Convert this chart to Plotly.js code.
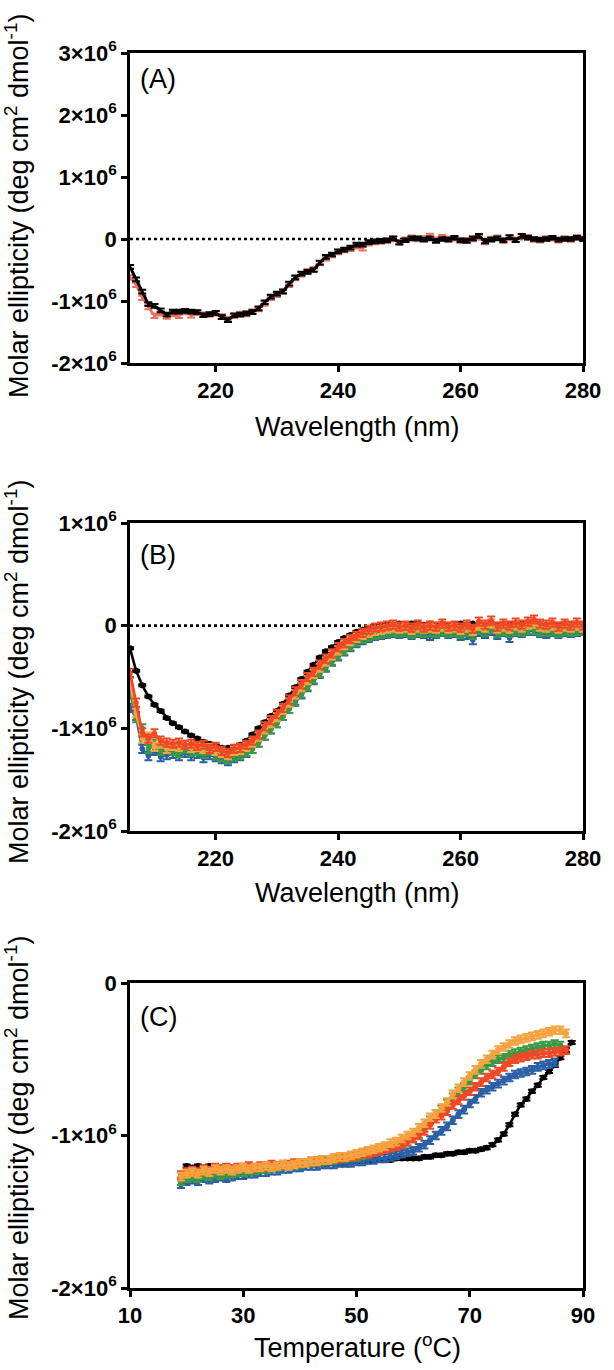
<!DOCTYPE html>
<html><head><meta charset="utf-8">
<script src="https://cdn.plot.ly/plotly-3.0.1.min.js"></script>
<style>html,body{margin:0;padding:0;background:#fff}#plot{width:614px;height:1370px}</style>
</head><body><div id="plot"></div>
<script>
// ---- data (ellipticity values in units of 1e6 deg cm2 dmol-1) ----
const wavelength = [206,207,208,209,210,211,212,213,214,215,216,217,218,219,220,221,222,223,224,225,226,227,228,229,230,231,232,233,234,235,236,237,238,239,240,241,242,243,244,245,246,247,248,249,250,251,252,253,254,255,256,257,258,259,260,261,262,263,264,265,266,267,268,269,270,271,272,273,274,275,276,277,278,279,280];

// Panel A
const A_black = [-0.45,-0.65,-0.85,-1.05,-1.08,-1.15,-1.22,-1.17,-1.17,-1.16,-1.17,-1.18,-1.23,-1.21,-1.19,-1.26,-1.31,-1.23,-1.22,-1.20,-1.18,-1.12,-1.02,-0.93,-0.88,-0.85,-0.72,-0.62,-0.56,-0.53,-0.50,-0.38,-0.29,-0.25,-0.20,-0.17,-0.14,-0.09,-0.09,-0.05,-0.04,-0.03,-0.02,0.01,-0.06,-0.02,0.01,0.01,-0.01,0.01,-0.03,0.00,-0.01,0.02,-0.02,-0.03,0.01,0.05,-0.04,-0.01,0.01,-0.02,0.03,-0.02,0.05,0.02,0.00,-0.01,0.00,0.02,-0.01,0.00,0.00,0.02,0.00];
const A_red = [-0.62,-0.74,-0.95,-1.10,-1.24,-1.20,-1.25,-1.21,-1.24,-1.18,-1.23,-1.19,-1.22,-1.22,-1.20,-1.25,-1.29,-1.24,-1.21,-1.21,-1.17,-1.13,-1.04,-0.95,-0.90,-0.84,-0.74,-0.63,-0.57,-0.52,-0.49,-0.39,-0.31,-0.26,-0.21,-0.18,-0.16,-0.12,-0.15,-0.07,-0.05,-0.04,-0.03,0.00,-0.05,-0.01,0.02,0.00,0.01,0.05,-0.01,0.03,0.00,0.01,-0.03,-0.02,0.00,0.03,-0.05,0.00,0.02,-0.03,0.02,-0.01,0.04,0.03,-0.01,-0.02,0.01,0.01,-0.02,0.01,-0.01,0.03,0.00];

// Panel B
const B_black = [-0.22,-0.44,-0.58,-0.69,-0.77,-0.83,-0.90,-0.95,-0.99,-1.03,-1.07,-1.10,-1.13,-1.15,-1.17,-1.19,-1.19,-1.18,-1.16,-1.12,-1.06,-1.00,-0.94,-0.88,-0.83,-0.76,-0.68,-0.60,-0.52,-0.45,-0.38,-0.31,-0.25,-0.21,-0.16,-0.12,-0.09,-0.06,-0.04,-0.02,-0.01,0.00,0.01,0.01,0.02,0.01,0.02,0.02,0.01,0.02,0.01,0.02,0.01,0.01,0.02,0.01,0.02,0.02,0.01,0.02,0.01,0.02,0.01,0.02,0.02,0.01,0.02,0.02,0.01,0.02,0.01,0.02,0.01,0.01,0.01];
const B_blue = [-0.80,-0.88,-1.20,-1.27,-1.22,-1.28,-1.26,-1.25,-1.27,-1.24,-1.27,-1.25,-1.29,-1.26,-1.28,-1.30,-1.32,-1.29,-1.27,-1.24,-1.20,-1.14,-1.07,-1.01,-0.95,-0.88,-0.81,-0.74,-0.67,-0.60,-0.53,-0.47,-0.41,-0.35,-0.30,-0.25,-0.21,-0.17,-0.14,-0.12,-0.10,-0.09,-0.08,-0.07,-0.08,-0.07,-0.09,-0.07,-0.08,-0.10,-0.08,-0.06,-0.08,-0.07,-0.10,-0.09,-0.14,-0.06,-0.08,-0.05,-0.09,-0.06,-0.12,-0.06,-0.07,-0.05,-0.05,-0.07,-0.08,-0.06,-0.08,-0.06,-0.07,-0.06,-0.04];
const B_green = [-0.65,-0.90,-1.00,-1.20,-1.15,-1.22,-1.18,-1.22,-1.24,-1.20,-1.23,-1.22,-1.25,-1.22,-1.26,-1.28,-1.30,-1.27,-1.26,-1.23,-1.20,-1.14,-1.07,-1.01,-0.95,-0.88,-0.81,-0.73,-0.66,-0.59,-0.52,-0.46,-0.40,-0.34,-0.29,-0.24,-0.20,-0.16,-0.13,-0.11,-0.09,-0.08,-0.07,-0.06,-0.07,-0.06,-0.08,-0.06,-0.07,-0.06,-0.07,-0.05,-0.07,-0.06,-0.08,-0.06,-0.09,-0.04,-0.06,-0.03,-0.07,-0.05,-0.07,-0.05,-0.06,-0.04,-0.04,-0.06,-0.06,-0.05,-0.07,-0.05,-0.06,-0.05,-0.05];
const B_orange = [-0.55,-0.85,-1.10,-1.08,-1.18,-1.15,-1.20,-1.17,-1.18,-1.16,-1.19,-1.18,-1.20,-1.19,-1.22,-1.24,-1.26,-1.22,-1.21,-1.18,-1.14,-1.08,-1.01,-0.95,-0.89,-0.82,-0.75,-0.67,-0.60,-0.53,-0.47,-0.41,-0.35,-0.29,-0.24,-0.19,-0.15,-0.12,-0.09,-0.07,-0.05,-0.04,-0.03,-0.02,-0.03,-0.02,-0.04,-0.02,-0.03,-0.02,-0.03,-0.01,-0.03,-0.02,-0.04,-0.02,-0.05,0.00,-0.02,0.02,-0.03,-0.01,-0.03,0.00,-0.02,0.01,0.02,-0.01,-0.02,0.00,-0.03,-0.01,-0.02,0.00,-0.02];
const B_red = [-0.46,-0.75,-1.04,-1.10,-1.05,-1.12,-1.14,-1.15,-1.14,-1.16,-1.15,-1.17,-1.16,-1.20,-1.18,-1.22,-1.24,-1.20,-1.19,-1.16,-1.12,-1.06,-0.98,-0.92,-0.86,-0.80,-0.72,-0.64,-0.57,-0.50,-0.45,-0.38,-0.32,-0.27,-0.21,-0.17,-0.13,-0.10,-0.07,-0.04,-0.02,-0.01,0.00,0.01,-0.01,0.00,-0.02,0.01,-0.02,0.00,-0.01,0.02,-0.01,0.00,-0.02,0.01,-0.03,0.04,0.01,0.05,-0.01,0.02,0.00,0.03,0.01,0.04,0.06,0.02,0.01,0.03,-0.01,0.02,0.00,0.03,0.00];

// Panel C
const temperature = [19,20,21,22,23,24,25,26,27,28,29,30,31,32,33,34,35,36,37,38,39,40,41,42,43,44,45,46,47,48,49,50,51,52,53,54,55,56,57,58,59,60,61,62,63,64,65,66,67,68,69,70,71,72,73,74,75,76,77,78,79,80,81,82,83,84,85,86,87,88];
const C_black = [null,-1.20,-1.21,-1.20,-1.21,-1.20,-1.21,-1.21,-1.20,-1.21,-1.20,-1.21,-1.20,-1.21,-1.20,-1.20,-1.21,-1.20,-1.20,-1.19,-1.20,-1.19,-1.19,-1.19,-1.18,-1.19,-1.18,-1.18,-1.18,-1.18,-1.17,-1.17,-1.17,-1.17,-1.16,-1.16,-1.16,-1.16,-1.15,-1.15,-1.15,-1.15,-1.15,-1.14,-1.14,-1.13,-1.13,-1.12,-1.12,-1.11,-1.11,-1.10,-1.10,-1.09,-1.08,-1.06,-1.03,-0.99,-0.93,-0.86,-0.80,-0.76,-0.71,-0.67,-0.62,-0.58,-0.54,-0.49,-0.44,-0.39];
const C_blue = [-1.32,-1.30,-1.29,-1.30,-1.28,-1.29,-1.28,-1.27,-1.28,-1.27,-1.26,-1.26,-1.25,-1.25,-1.24,-1.24,-1.23,-1.23,-1.22,-1.22,-1.21,-1.21,-1.20,-1.20,-1.20,-1.19,-1.19,-1.19,-1.18,-1.18,-1.18,-1.17,-1.17,-1.16,-1.16,-1.15,-1.15,-1.14,-1.13,-1.12,-1.11,-1.10,-1.08,-1.06,-1.03,-1.00,-0.97,-0.94,-0.90,-0.86,-0.83,-0.79,-0.76,-0.72,-0.70,-0.68,-0.66,-0.64,-0.62,-0.60,-0.59,-0.58,-0.57,-0.55,-0.54,-0.53,-0.52,null,null,null];
const C_green = [-1.30,-1.28,-1.27,-1.28,-1.26,-1.27,-1.25,-1.26,-1.25,-1.25,-1.24,-1.24,-1.23,-1.23,-1.22,-1.22,-1.21,-1.21,-1.20,-1.20,-1.19,-1.19,-1.18,-1.18,-1.17,-1.17,-1.16,-1.16,-1.15,-1.15,-1.14,-1.14,-1.13,-1.12,-1.11,-1.10,-1.09,-1.08,-1.07,-1.05,-1.04,-1.02,-0.99,-0.95,-0.90,-0.86,-0.83,-0.79,-0.75,-0.71,-0.68,-0.64,-0.60,-0.57,-0.54,-0.52,-0.50,-0.49,-0.47,-0.46,-0.45,-0.44,-0.43,-0.42,-0.41,-0.41,-0.40,-0.41,null,null];
const C_orange = [-1.27,-1.25,-1.24,-1.25,-1.23,-1.24,-1.22,-1.23,-1.22,-1.23,-1.22,-1.21,-1.22,-1.21,-1.21,-1.20,-1.21,-1.20,-1.19,-1.20,-1.19,-1.18,-1.18,-1.17,-1.17,-1.16,-1.16,-1.15,-1.14,-1.14,-1.13,-1.12,-1.11,-1.10,-1.09,-1.08,-1.07,-1.05,-1.04,-1.02,-1.00,-0.98,-0.95,-0.92,-0.88,-0.86,-0.82,-0.78,-0.73,-0.69,-0.65,-0.61,-0.57,-0.53,-0.50,-0.47,-0.44,-0.42,-0.40,-0.38,-0.37,-0.36,-0.35,-0.34,-0.33,-0.32,-0.31,-0.31,-0.33,null];
const C_red = [-1.26,-1.24,-1.23,-1.24,-1.22,-1.23,-1.21,-1.22,-1.21,-1.22,-1.21,-1.21,-1.20,-1.21,-1.20,-1.20,-1.19,-1.20,-1.19,-1.19,-1.18,-1.18,-1.18,-1.17,-1.17,-1.16,-1.16,-1.15,-1.15,-1.14,-1.14,-1.13,-1.12,-1.12,-1.11,-1.10,-1.09,-1.08,-1.07,-1.06,-1.04,-1.02,-1.00,-0.97,-0.93,-0.89,-0.87,-0.84,-0.80,-0.77,-0.74,-0.71,-0.68,-0.65,-0.62,-0.60,-0.58,-0.55,-0.52,-0.50,-0.49,-0.48,-0.47,-0.47,-0.46,-0.46,-0.45,-0.45,-0.44,null];

// tick labels
const wlTicks = [220,240,260,280];
const tempTicks = [10,30,50,70,90];
const yTicksA = [-2,-1,0,1,2,3];
const yTicksB = [-2,-1,0,1];
const yTicksC = [-2,-1,0];
const panelLabels = ['(A)','(B)','(C)'];
const yTitle = 'Molar ellipticity (deg cm<sup>2</sup> dmol<sup>-1</sup>)';
const xTitleWl = 'Wavelength (nm)';
const xTitleT = 'Temperature (<sup>o</sup>C)';

// ---- build ----
const E6 = 1e6;
const sc = a => a.map(v => v === null ? null : v * E6);
const tickLbl = v => v === 0 ? '0' : (v + '×10<sup>6</sup>');
const FONT = 'Arial, "Liberation Sans", Helvetica, sans-serif';
const W = 614, H = 1370;
const px = x => x / W, py = y => 1 - y / H;

const COL = {black:'#000000', salmon:'#e9705e', blue:'#2b5fa6', green:'#3a9a42', orange:'#f4a340', red:'#ef4826'};

function tr(x, y, color, xa, ya, opt) {
  opt = opt || {};
  return {
    x: x, y: sc(y), xaxis: xa, yaxis: ya, type: 'scatter',
    mode: opt.markers ? 'lines+markers' : 'lines',
    line: {color: color, width: opt.lw || 2.6},
    marker: {color: color, size: opt.ms || 6},
    error_y: {type: 'constant', value: (opt.err || 0.03) * E6, color: color, thickness: 2, width: 4},
    connectgaps: false, hoverinfo: 'x+y', showlegend: false
  };
}

const data = [
  tr(wavelength, A_red, COL.salmon, 'x', 'y', {lw: 2.6, err: 0.035}),
  tr(wavelength, A_black, COL.black, 'x', 'y', {lw: 3, err: 0.03}),
  tr(wavelength, B_black, COL.black, 'x2', 'y2', {markers: true, ms: 6, lw: 2.6, err: 0.01}),
  tr(wavelength, B_blue, COL.blue, 'x2', 'y2', {markers: true, ms: 5.5, lw: 2.8, err: 0.04}),
  tr(wavelength, B_green, COL.green, 'x2', 'y2', {markers: true, ms: 5.5, lw: 2.8, err: 0.04}),
  tr(wavelength, B_orange, COL.orange, 'x2', 'y2', {markers: true, ms: 5.5, lw: 2.8, err: 0.04}),
  tr(wavelength, B_red, COL.red, 'x2', 'y2', {markers: true, ms: 5.5, lw: 2.8, err: 0.04}),
  tr(temperature, C_black, COL.black, 'x3', 'y3', {markers: true, ms: 6, lw: 2.6, err: 0.01}),
  tr(temperature, C_blue, COL.blue, 'x3', 'y3', {markers: true, ms: 6, lw: 2.8, err: 0.025}),
  tr(temperature, C_green, COL.green, 'x3', 'y3', {markers: true, ms: 6, lw: 2.8, err: 0.025}),
  tr(temperature, C_red, COL.red, 'x3', 'y3', {markers: true, ms: 6, lw: 2.8, err: 0.025}),
  tr(temperature, C_orange, COL.orange, 'x3', 'y3', {markers: true, ms: 6, lw: 2.8, err: 0.025})
];

function axis(domain, range, vals, texts, anchor) {
  return {
    domain: domain, range: range, anchor: anchor,
    tickmode: 'array', tickvals: vals, ticktext: texts,
    showline: true, linecolor: '#000', linewidth: 2.8, mirror: true,
    ticks: 'outside', ticklen: 6, tickwidth: 2.8, tickcolor: '#000',
    showgrid: false, zeroline: false,
    tickfont: {family: FONT, size: 22, weight: 'bold', color: '#000'}
  };
}

const xDom = [px(130), px(583)];
const dA = [py(363), py(53)], dB = [py(831), py(523)], dC = [py(1288), py(983)];

const TS = 27;
const layout = {
  width: W, height: H, margin: {l: 0, r: 0, t: 0, b: 0},
  paper_bgcolor: '#fff', plot_bgcolor: 'rgba(0,0,0,0)', showlegend: false,
  font: {family: FONT, color: '#000', size: 16},
  xaxis: axis(xDom, [206, 280], wlTicks, wlTicks.map(String), 'y'),
  yaxis: axis(dA, [-2 * E6, 3 * E6], yTicksA.map(v => v * E6), yTicksA.map(tickLbl), 'x'),
  xaxis2: axis(xDom, [206, 280], wlTicks, wlTicks.map(String), 'y2'),
  yaxis2: axis(dB, [-2 * E6, 1 * E6], yTicksB.map(v => v * E6), yTicksB.map(tickLbl), 'x2'),
  xaxis3: axis(xDom, [10, 90], tempTicks, tempTicks.map(String), 'y3'),
  yaxis3: axis(dC, [-2 * E6, 0], yTicksC.map(v => v * E6), yTicksC.map(tickLbl), 'x3'),
  shapes: [
    {type: 'line', xref: 'x domain', yref: 'y', x0: 0, x1: 1, y0: 0, y1: 0, line: {color: '#000', width: 2.6, dash: 'dot'}, layer: 'below'},
    {type: 'line', xref: 'x2 domain', yref: 'y2', x0: 0, x1: 1, y0: 0, y1: 0, line: {color: '#000', width: 2.6, dash: 'dot'}, layer: 'below'}
  ],
  annotations: [
    {text: panelLabels[0], xref: 'paper', yref: 'paper', x: px(138), y: py(79), xanchor: 'left', yanchor: 'middle', showarrow: false, font: {size: 27, family: FONT}},
    {text: panelLabels[1], xref: 'paper', yref: 'paper', x: px(138), y: py(555), xanchor: 'left', yanchor: 'middle', showarrow: false, font: {size: 27, family: FONT}},
    {text: panelLabels[2], xref: 'paper', yref: 'paper', x: px(138), y: py(1017), xanchor: 'left', yanchor: 'middle', showarrow: false, font: {size: 27, family: FONT}},
    {text: yTitle, xref: 'paper', yref: 'paper', x: px(17), y: py(206), xanchor: 'center', yanchor: 'middle', textangle: -90, showarrow: false, font: {size: TS, family: FONT}},
    {text: yTitle, xref: 'paper', yref: 'paper', x: px(17), y: py(672), xanchor: 'center', yanchor: 'middle', textangle: -90, showarrow: false, font: {size: TS, family: FONT}},
    {text: yTitle, xref: 'paper', yref: 'paper', x: px(17), y: py(1128), xanchor: 'center', yanchor: 'middle', textangle: -90, showarrow: false, font: {size: TS, family: FONT}},
    {text: xTitleWl, xref: 'paper', yref: 'paper', x: px(357), y: py(427), xanchor: 'center', yanchor: 'middle', showarrow: false, font: {size: TS, family: FONT}},
    {text: xTitleWl, xref: 'paper', yref: 'paper', x: px(357), y: py(893), xanchor: 'center', yanchor: 'middle', showarrow: false, font: {size: TS, family: FONT}},
    {text: xTitleT, xref: 'paper', yref: 'paper', x: px(357), y: py(1346), xanchor: 'center', yanchor: 'middle', showarrow: false, font: {size: TS, family: FONT}}
  ]
};

Plotly.newPlot('plot', data, layout, {displayModeBar: false});
</script></body></html>
